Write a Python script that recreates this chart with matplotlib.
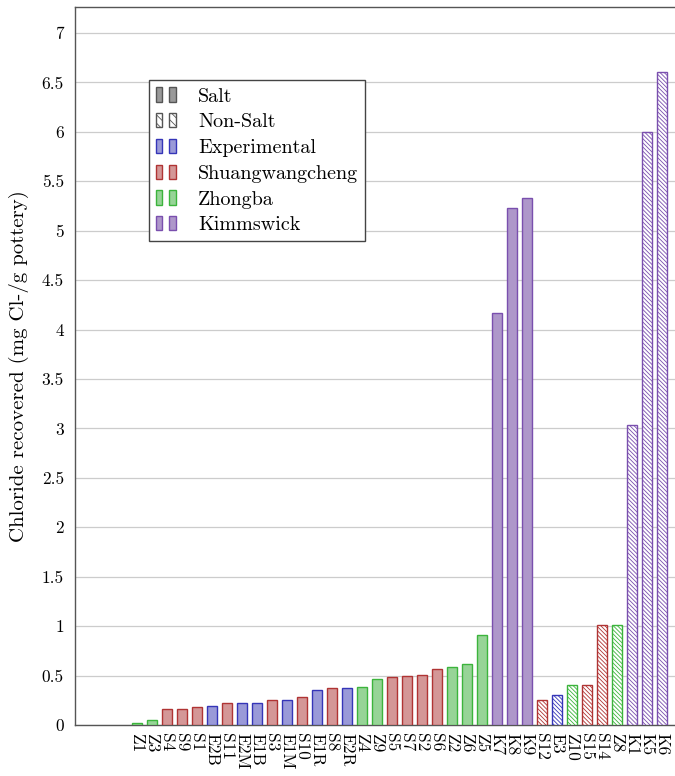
import numpy as np
import matplotlib
matplotlib.use('Agg')
import matplotlib.pyplot as plt
from matplotlib.patches import Rectangle
from matplotlib.legend_handler import HandlerTuple

plt.rcParams['font.family'] = 'serif'
plt.rcParams['font.serif'] = ['cmr10', 'DejaVu Serif']
plt.rcParams['axes.unicode_minus'] = False
plt.rcParams['axes.formatter.use_mathtext'] = True
plt.rcParams['hatch.linewidth'] = 0.6

# samples sorted by chloride recovered, salt samples first, then non-salt
samples = ['Z1', 'Z3', 'S4', 'S9', 'S1', 'E2B', 'S11', 'E2M', 'E1B', 'S3',
           'E1M', 'S10', 'E1R', 'S8', 'E2R', 'Z4', 'Z9', 'S5', 'S7', 'S2',
           'S6', 'Z2', 'Z6', 'Z5', 'K7', 'K8', 'K9',
           'S12', 'E3', 'Z10', 'S15', 'S14', 'Z8', 'K1', 'K5', 'K6']
chloride = [0.02, 0.05, 0.16, 0.163, 0.18, 0.19, 0.22, 0.225, 0.225, 0.25,
            0.256, 0.28, 0.35, 0.37, 0.37, 0.38, 0.47, 0.49, 0.50, 0.51,
            0.566, 0.587, 0.617, 0.91, 4.165, 5.23, 5.33,
            0.25, 0.30, 0.40, 0.40, 1.01, 1.01, 3.03, 6.0, 6.6]
salt = [True] * 27 + [False] * 9

# site colours: (fill, edge)
site_colors = {
    'E': ('#9a9ad8', '#3535b8'),
    'S': ('#d49797', '#b03434'),
    'Z': ('#97d497', '#3cb43c'),
    'K': ('#ae97ca', '#7a4fae'),
}
site_names = [('E', 'Experimental'), ('S', 'Shuangwangcheng'),
              ('Z', 'Zhongba'), ('K', 'Kimmswick')]

HATCH = '\\' * 8

fig = plt.figure(figsize=(6.75, 7.76), dpi=100)
ax = fig.add_axes([0.111, 0.0657, 0.889, 0.925])

x = np.arange(len(samples))
for xi, name, val, is_salt in zip(x, samples, chloride, salt):
    fill, edge = site_colors[name[0]]
    if is_salt:
        ax.bar(xi, val, width=0.7, color=fill, edgecolor=edge, linewidth=1.0, zorder=3)
    else:
        ax.bar(xi, val, width=0.7, color='white', edgecolor=edge, hatch=HATCH,
               linewidth=1.0, zorder=3)

ax.set_xlim(-4.13, 35.87)
ax.set_ylim(0, 7.26)
yt = np.arange(0, 7.01, 0.5)
ax.set_yticks(yt)
ax.set_yticklabels(['%g' % v for v in yt])
ax.set_xticks(x)
ax.set_xticklabels(samples, rotation=270, ha='center', va='top')
ax.tick_params(axis='both', length=0, labelsize=12.5)
ax.tick_params(axis='y', pad=8)
ax.tick_params(axis='x', pad=6)
ax.grid(axis='y', color='#cccccc', linewidth=0.9)
ax.set_axisbelow(True)
ax.spines['right'].set_visible(False)
for s in ['left', 'top', 'bottom']:
    ax.spines[s].set_color('#555555')
    ax.spines[s].set_linewidth(1.0)
ax.set_ylabel('Chloride recovered (mg Cl-/g pottery)', fontsize=15, labelpad=9)

# legend: two small bars per entry
def pair(fill, edge, hatch=None):
    kw = dict(facecolor=fill, edgecolor=edge, linewidth=1.0)
    if hatch:
        kw['hatch'] = hatch
    return (Rectangle((0, 0), 1, 1, **kw), Rectangle((0, 0), 1, 1, **kw))

handles = [pair('#999999', '#555555'), pair('white', '#555555', '\\' * 4)]
labels = ['Salt', 'Non-Salt']
for key, nm in site_names:
    handles.append(pair(*site_colors[key]))
    labels.append(nm)

leg = ax.legend(handles, labels, handler_map={tuple: HandlerTuple(ndivide=None, pad=0.35)},
                loc='upper left', bbox_to_anchor=(0.123, 0.898), borderaxespad=0,
                fontsize=14.5, handlelength=1.0, handleheight=0.7, handletextpad=1.1,
                labelspacing=0.38, borderpad=0.35, fancybox=False, framealpha=1)
leg.get_frame().set_edgecolor('#444444')
leg.get_frame().set_linewidth(1.0)

fig.savefig('out.png', dpi=100)
